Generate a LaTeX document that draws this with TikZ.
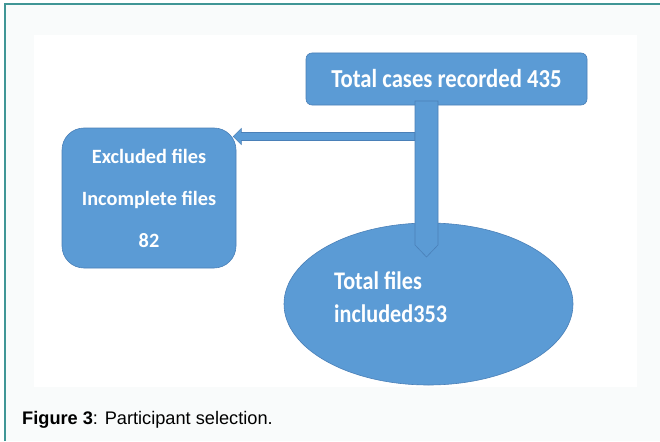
\documentclass[tikz,border=0pt]{standalone}
\usepackage{fontspec}
\usepackage{graphicx}
\setmainfont{Carlito}
\newfontfamily\capfont{Liberation Sans}
\usetikzlibrary{shapes.geometric,calc}
\definecolor{boxblue}{HTML}{5B9BD5}
\definecolor{boxline}{HTML}{4A80B8}
\definecolor{frameteal}{RGB}{64,150,150}
\definecolor{bggray}{HTML}{F9FBFB}
\newcommand{\vstr}[1]{\scalebox{1}[1.14]{#1}}
\tikzset{
  flowbox/.style={draw=boxline, line width=0.6pt, fill=boxblue, text=white, font=\bfseries, inner sep=0pt},
  blockarrow/.style={draw=boxline, line width=0.6pt, fill=boxblue},
}
\begin{document}
\begin{tikzpicture}[x=1pt,y=-1pt]
\useasboundingbox (0,0) rectangle (660,441);
% frame and background
\fill[bggray] (5,4) rectangle (660,441);
\draw[frameteal, line width=1.5pt] (5,441) -- (5,4) -- (660,4);
\fill[white] (34,35) rectangle (637,387);
% nodes
\coordinate (lstart) at (415,136.5);
\node[flowbox, rounded corners=22pt, minimum width=174pt, minimum height=140pt, align=center,
      font=\bfseries\fontsize{20.3}{42}\selectfont] (excl) at (149,198)
  {Excluded files\\Incomplete files\\82};
\node[flowbox, ellipse, minimum width=289pt, minimum height=162pt] (inc) at (428.5,304) {};
\node[flowbox, rounded corners=6pt, minimum width=281pt, minimum height=52pt,
      font=\bfseries\fontsize{22.7}{27}\selectfont] (top) at (446.5,79) {\vstr{Total cases recorded 435}};
% left arrow
\coordinate (ltip) at ($(excl.east)+(-3,-61.5)$);
\draw[blockarrow] (lstart) ++(0,-4) -- ($(ltip)+(8,-4)$) -- ($(ltip)+(8,-8)$) -- (ltip)
  -- ($(ltip)+(8,8)$) -- ($(ltip)+(8,4)$) -- ($(lstart)+(0,4)$) -- cycle;
% down arrow
\coordinate (dtop) at (426.5,101);
\coordinate (dtip) at (426.5,257);
\draw[blockarrow] ($(dtop)+(-11.5,0)$) -- ($(dtop)+(11.5,0)$) -- ($(dtip)+(11.5,-12)$) -- (dtip)
  -- ($(dtip)+(-11.5,-12)$) -- cycle;
% ellipse text
\node[anchor=base west, align=left, text=white, inner sep=0pt,
      font=\bfseries\fontsize{22.2}{33}\selectfont] (inctxt) at (334,322)
  {\vstr{Total files}\\\vstr{included353}};
% caption
\node[anchor=base west, inner sep=0pt, font=\capfont\fontsize{18.2}{20}\selectfont] (cap) at (22,424)
  {\textbf{Figure 3}: Participant selection.};
\end{tikzpicture}
\end{document}
